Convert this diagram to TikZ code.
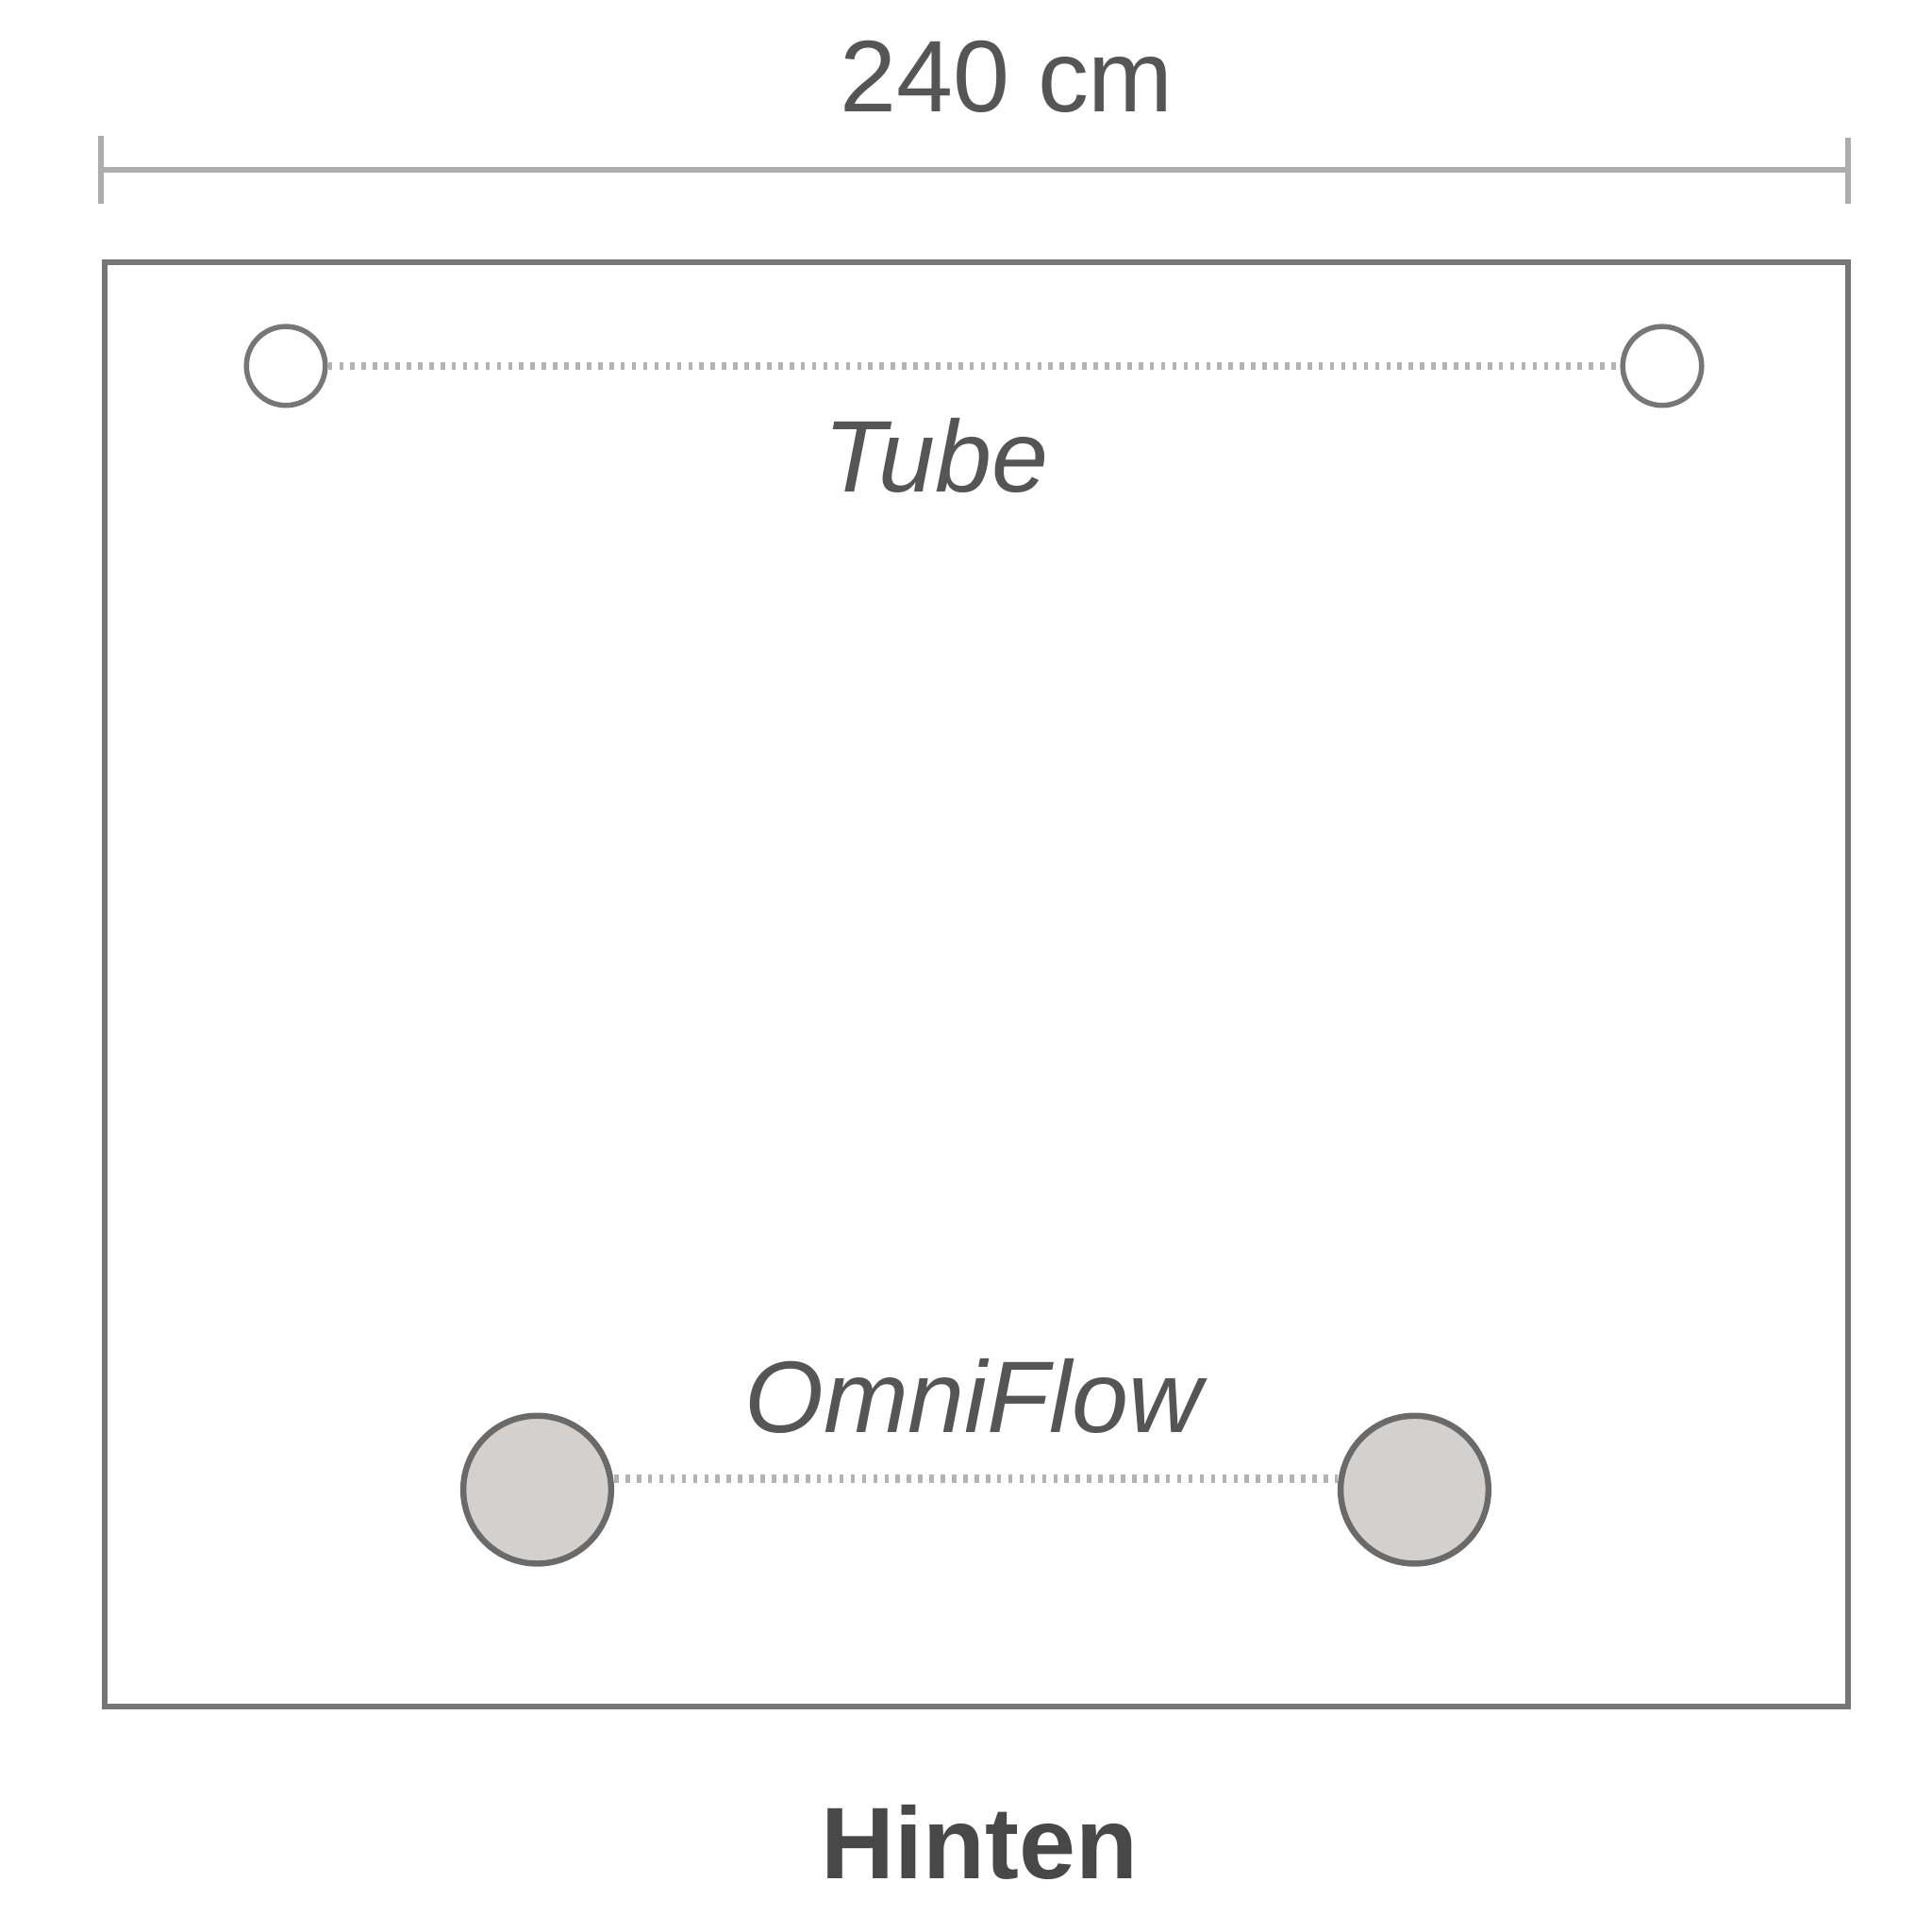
\documentclass[tikz,border=0pt]{standalone}
\usepackage{fontspec}
\setmainfont{Liberation Sans}
\definecolor{rahmengrau}{HTML}{767676}
\definecolor{massgrau}{HTML}{ADADAD}
\definecolor{punktgrau}{HTML}{B3B3B3}
\definecolor{textgrau}{HTML}{555555}
\definecolor{flowfill}{HTML}{D4D0CD}

\begin{document}
\begin{tikzpicture}[
   rahmen/.style={draw=rahmengrau, line width=1.4pt},
   masslinie/.style={draw=massgrau, line width=1.2pt},
   punkte/.style={draw=punktgrau, line width=1.9pt, dash pattern=on 1pt off 1.6pt},
   tube/.style={circle, draw=rahmengrau, fill=white, line width=1.2pt, minimum size=0.64cm, inner sep=0pt},
   flow/.style={circle, draw=rahmengrau!90!black, fill=flowfill, line width=1.4pt, minimum size=1.20cm, inner sep=0pt},
   beschriftung/.style={inner sep=0pt, text=textgrau, font=\fontsize{23.5}{28}\selectfont\itshape},
   titel/.style={inner sep=0pt, text=textgrau, font=\fontsize{23.5}{28}\selectfont},
   seite/.style={inner sep=0pt, text=textgrau!85!black, font=\fontsize{23.5}{28}\selectfont\bfseries}
]
   \useasboundingbox (0,0) rectangle (15.68,-15.68);
   % Masslinie oben
   \coordinate (massL) at (0.82,-1.38);
   \coordinate (massR) at (15.00,-1.38);
   \draw[masslinie] (massL) -- (massR);
   \draw[masslinie] (0.82,-1.10) -- (0.82,-1.65);
   \draw[masslinie] (15.00,-1.12) -- (15.00,-1.65);
   \node[titel] (breite) at (8.17,-0.62) {240 cm};
   % Rahmen
   \draw[rahmen] (0.85,-2.13) rectangle (15.00,-13.85);
   % Tube
   \node[tube] (tubeL) at (2.32,-2.97) {};
   \node[tube] (tubeR) at (13.49,-2.97) {};
   \draw[punkte] (tubeL) -- (tubeR);
   \node[beschriftung] (tubeText) at (7.60,-3.70) {Tube};
   % OmniFlow
   \node[flow] (flowL) at (4.36,-12.09) {};
   \node[flow] (flowR) at (11.48,-12.09) {};
   \coordinate (flowA) at ([yshift=0.09cm]flowL.east);
   \coordinate (flowB) at ([yshift=0.09cm]flowR.west);
   \draw[punkte] (flowA) -- (flowB);
   \node[beschriftung] (flowText) at (7.90,-11.33) {OmniFlow};
   % unten
   \node[seite] (hinten) at (7.95,-14.95) {Hinten};
\end{tikzpicture}
\end{document}
